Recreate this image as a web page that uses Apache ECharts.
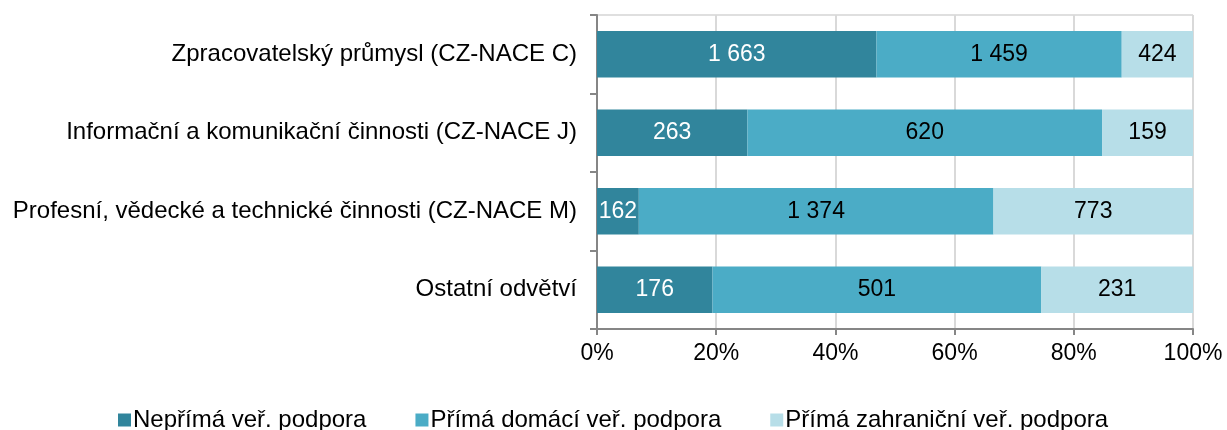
<!DOCTYPE html>
<html>
<head>
<meta charset="utf-8">
<script src="https://cdn.jsdelivr.net/npm/echarts@6/dist/echarts.min.js"></script>
<style>html,body{margin:0;padding:0;background:#fff}#c{width:1227px;height:430px}</style>
</head>
<body>
<div id="c"></div>
<script>
const categories = [
  'Zpracovatelský průmysl (CZ-NACE C)',
  'Informační a komunikační činnosti (CZ-NACE J)',
  'Profesní, vědecké a technické činnosti (CZ-NACE M)',
  'Ostatní odvětví'
];
const seriesNames = ['Nepřímá veř. podpora', 'Přímá domácí veř. podpora', 'Přímá zahraniční veř. podpora'];
const indirect = [1663, 263, 162, 176];
const directDomestic = [1459, 620, 1374, 501];
const directForeign = [424, 159, 773, 231];
const xTickLabels = ['0%', '20%', '40%', '60%', '80%', '100%'];

const raw = [indirect, directDomestic, directForeign];
const totals = categories.map((_, i) => raw.reduce((s, a) => s + a[i], 0));
const colors = ['#31859C', '#4BACC6', '#B7DEE8'];
const labelColors = ['#ffffff', '#000000', '#000000'];
const FONT = 'Liberation Sans, Arial, sans-serif';
const fmt = v => String(v).replace(/\B(?=(\d{3})+(?!\d))/g, ' ');

const series = raw.map((arr, k) => ({
  name: seriesNames[k],
  type: 'bar',
  stack: 'total',
  barWidth: '59%',
  data: arr.map((v, i) => ({ value: v / totals[i] * 100, raw: v })),
  itemStyle: { color: colors[k] },
  label: {
    show: true,
    position: 'inside',
    color: labelColors[k],
    fontFamily: FONT,
    fontSize: 23,
    formatter: p => fmt(p.data.raw)
  }
}));

const chart = echarts.init(document.getElementById('c'));
chart.setOption({
  animation: false,
  grid: { left: 597, right: 34, top: 15, bottom: 101, show: true, borderColor: '#bfbfbf', borderWidth: 1 },
  xAxis: {
    type: 'value', min: 0, max: 100, interval: 20,
    axisLine: { show: true, lineStyle: { color: '#868686', width: 2 } },
    axisTick: { show: true, length: 6, lineStyle: { color: '#868686', width: 2 } },
    splitLine: { show: true, lineStyle: { color: '#d9d9d9', width: 2 } },
    axisLabel: { color: '#000', fontFamily: FONT, fontSize: 23, margin: 13,
      formatter: v => xTickLabels[Math.round(v / 20)] }
  },
  yAxis: {
    type: 'category', inverse: true, data: categories,
    axisLine: { show: true, lineStyle: { color: '#868686', width: 2 } },
    axisTick: { show: true, length: 7, lineStyle: { color: '#868686', width: 2 } },
    axisLabel: { color: '#000', fontFamily: FONT, fontSize: 24, margin: 20 }
  },
  legend: {
    left: 113, top: 403, itemWidth: 13, itemHeight: 13, itemGap: 49,
    icon: 'rect',
    textStyle: { color: '#000', fontFamily: FONT, fontSize: 24, padding: [0, 0, 0, -3] },
    data: seriesNames
  },
  series
});
</script>
</body>
</html>
